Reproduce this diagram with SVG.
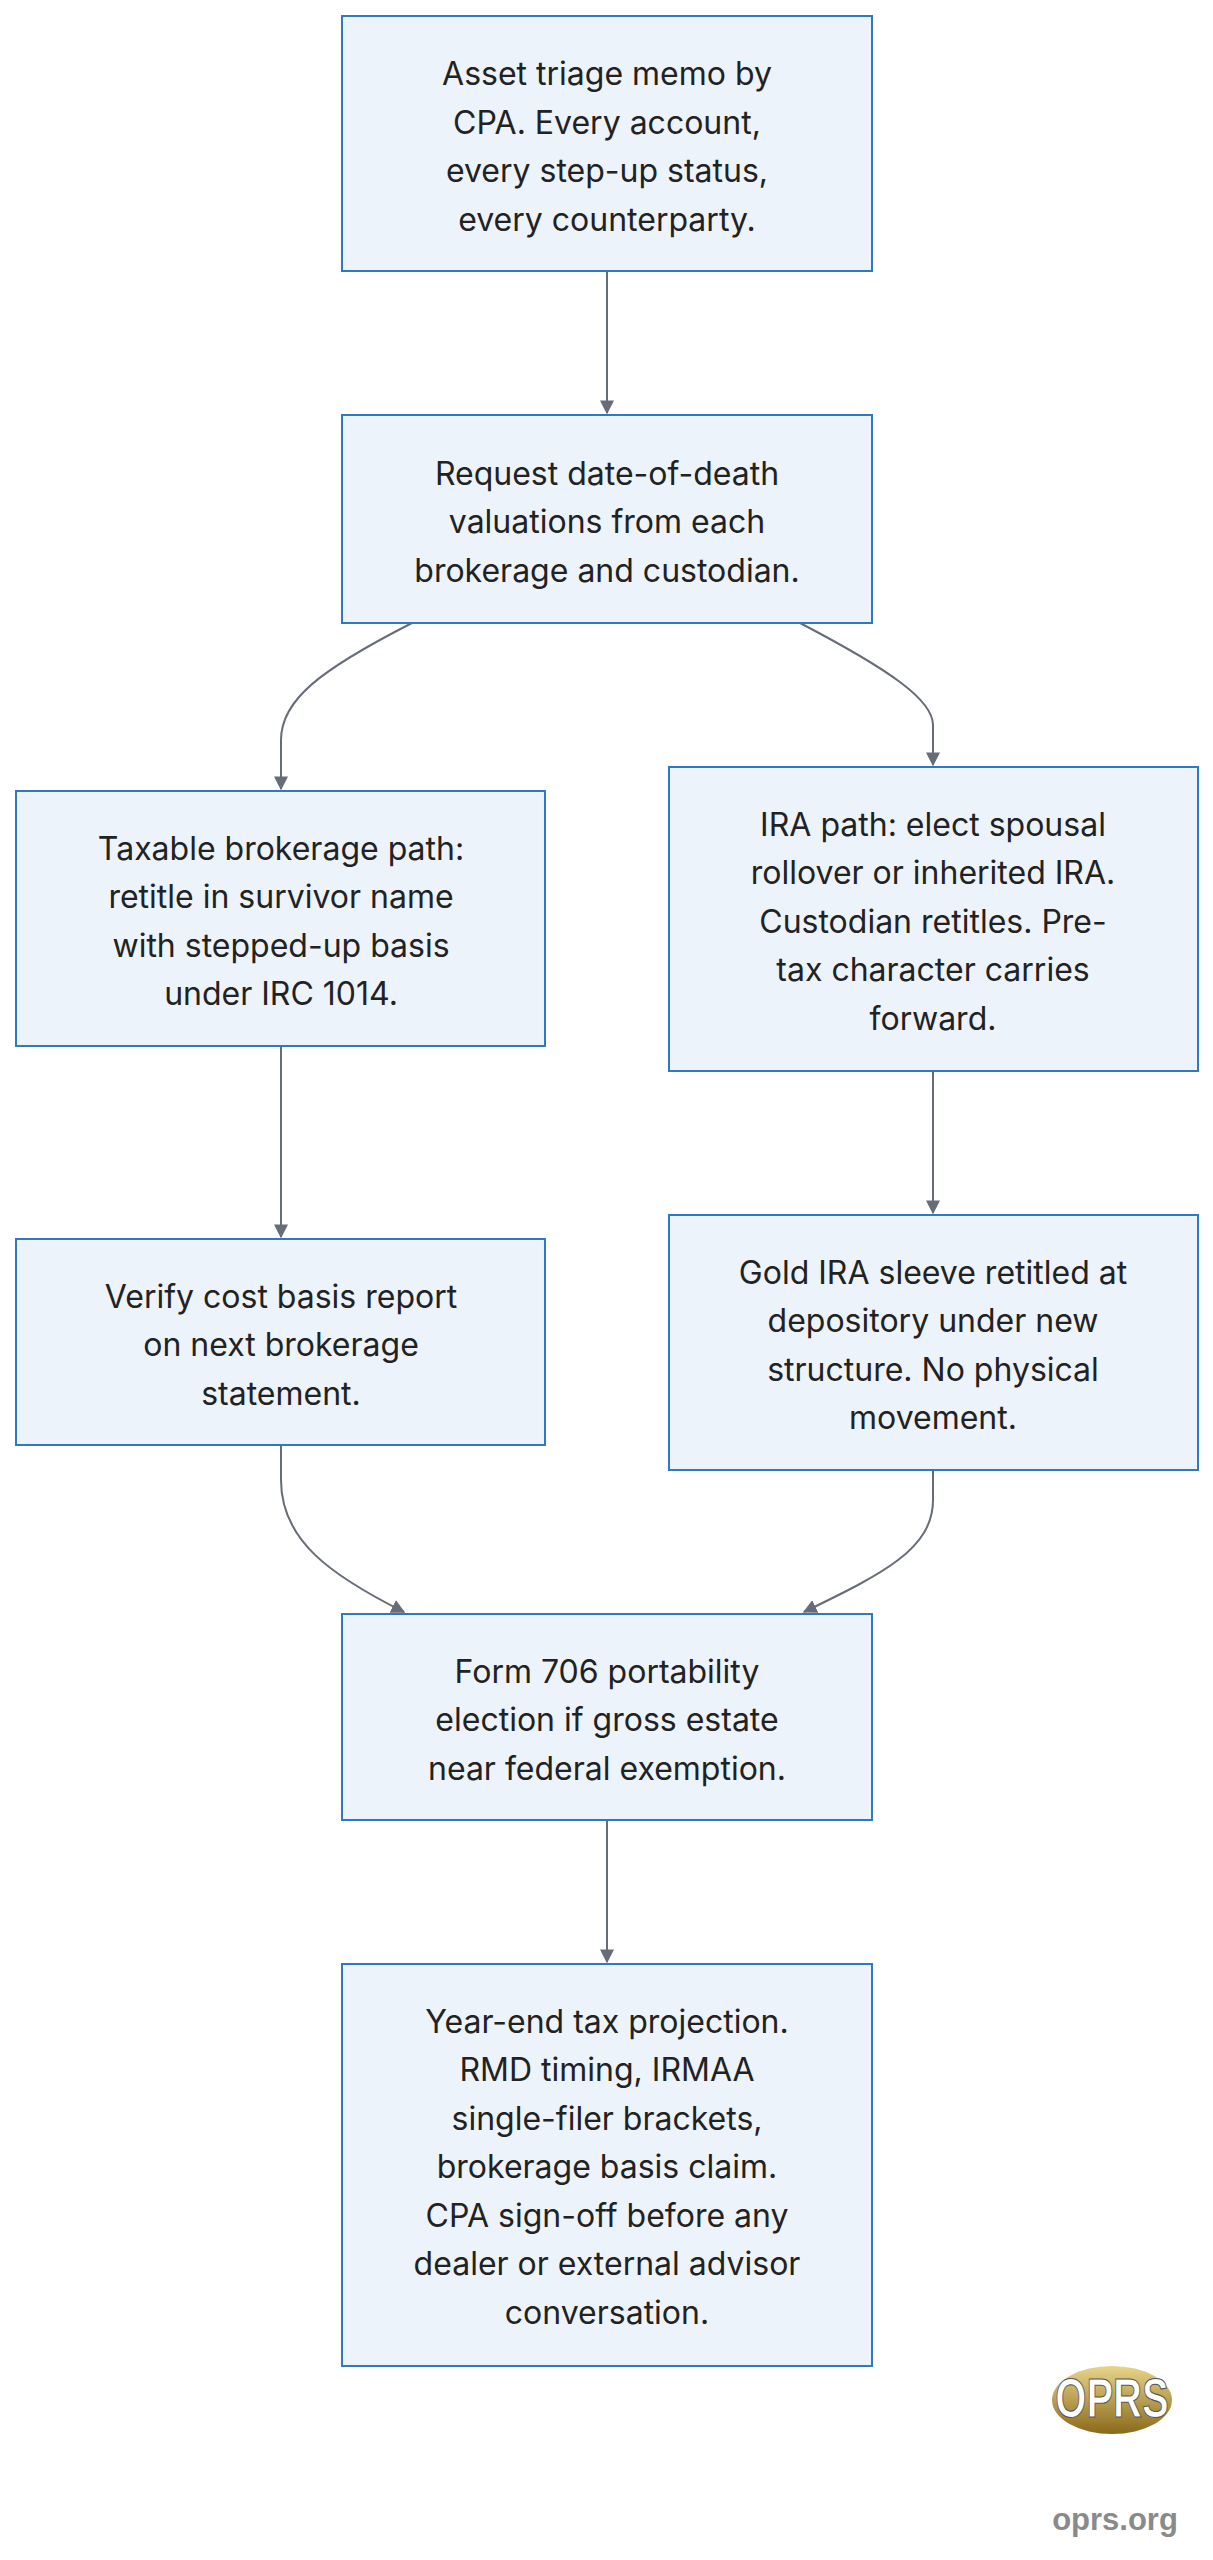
<svg xmlns="http://www.w3.org/2000/svg" width="1213" height="2560" viewBox="0 0 1213 2560">
<style>
.box{fill:#edf3fb;stroke:#2f78c4;stroke-width:2}
.t{font-family:Inter,"Noto Sans","Liberation Sans",sans-serif;font-size:32px;fill:#222;text-anchor:middle;dominant-baseline:central}
.c{fill:none;stroke:#666d78;stroke-width:2}
</style>
<defs><marker id="a" viewBox="0 0 10 10" refX="9" refY="5" markerWidth="14" markerHeight="14" markerUnits="userSpaceOnUse" orient="auto"><path d="M0,0L10,5L0,10z" fill="#666d78"/></marker>
<linearGradient id="g" x1="0" y1="0" x2="0" y2="1"><stop offset="0" stop-color="#e8d48a"/><stop offset="1" stop-color="#8a6a1a"/></linearGradient></defs>
<rect width="1213" height="2560" fill="#fff"/>
<g id="connectors">
<path class="c" d="M607,271V413" marker-end="url(#a)"/>
<path class="c" d="M412,623C320,670 281,700 281,740V789" marker-end="url(#a)"/>
<path class="c" d="M800,623C890,670 933,700 933,725V765" marker-end="url(#a)"/>
<path class="c" d="M281,1046V1237" marker-end="url(#a)"/>
<path class="c" d="M933,1071V1213" marker-end="url(#a)"/>
<path class="c" d="M281,1445V1480C281,1540 330,1575 404,1612" marker-end="url(#a)"/>
<path class="c" d="M933,1470V1500C933,1550 880,1575 804,1612" marker-end="url(#a)"/>
<path class="c" d="M607,1820V1962" marker-end="url(#a)"/>
</g>
<g id="n1"><rect class="box" x="342" y="16" width="530" height="255"/>
<text class="t" x="607"><tspan x="607" y="73">Asset triage memo by</tspan><tspan x="607" y="122">CPA. Every account,</tspan><tspan x="607" y="170">every step-up status,</tspan><tspan x="607" y="219">every counterparty.</tspan></text></g>
<g id="n2"><rect class="box" x="342" y="415" width="530" height="208"/>
<text class="t"><tspan x="607" y="473">Request date-of-death</tspan><tspan x="607" y="521">valuations from each</tspan><tspan x="607" y="570">brokerage and custodian.</tspan></text></g>
<g id="n3"><rect class="box" x="16" y="791" width="529" height="255"/>
<text class="t"><tspan x="281" y="848">Taxable brokerage path:</tspan><tspan x="281" y="896">retitle in survivor name</tspan><tspan x="281" y="945">with stepped-up basis</tspan><tspan x="281" y="993">under IRC 1014.</tspan></text></g>
<g id="n4"><rect class="box" x="669" y="767" width="529" height="304"/>
<text class="t"><tspan x="933" y="824">IRA path: elect spousal</tspan><tspan x="933" y="872">rollover or inherited IRA.</tspan><tspan x="933" y="921">Custodian retitles. Pre-</tspan><tspan x="933" y="969">tax character carries</tspan><tspan x="933" y="1018">forward.</tspan></text></g>
<g id="n5"><rect class="box" x="16" y="1239" width="529" height="206"/>
<text class="t"><tspan x="281" y="1296">Verify cost basis report</tspan><tspan x="281" y="1344">on next brokerage</tspan><tspan x="281" y="1393">statement.</tspan></text></g>
<g id="n6"><rect class="box" x="669" y="1215" width="529" height="255"/>
<text class="t"><tspan x="933" y="1272">Gold IRA sleeve retitled at</tspan><tspan x="933" y="1320">depository under new</tspan><tspan x="933" y="1369">structure. No physical</tspan><tspan x="933" y="1417">movement.</tspan></text></g>
<g id="n7"><rect class="box" x="342" y="1614" width="530" height="206"/>
<text class="t"><tspan x="607" y="1671">Form 706 portability</tspan><tspan x="607" y="1719">election if gross estate</tspan><tspan x="607" y="1768">near federal exemption.</tspan></text></g>
<g id="n8"><rect class="box" x="342" y="1964" width="530" height="402"/>
<text class="t"><tspan x="607" y="2021">Year-end tax projection.</tspan><tspan x="607" y="2069">RMD timing, IRMAA</tspan><tspan x="607" y="2118">single-filer brackets,</tspan><tspan x="607" y="2166">brokerage basis claim.</tspan><tspan x="607" y="2215">CPA sign-off before any</tspan><tspan x="607" y="2263">dealer or external advisor</tspan><tspan x="607" y="2312">conversation.</tspan></text></g>
<g id="logo">
<ellipse cx="1112" cy="2400" rx="60" ry="34" fill="url(#g)"/>
<text x="1112" y="2417" font-family="'Liberation Sans',sans-serif" font-weight="bold" font-size="50" fill="#fff" stroke="#555" stroke-width="1" text-anchor="middle" transform="translate(1112 0) scale(0.8 1.1) translate(-1112 -220)">OPRS</text>
<text x="1115" y="2530" font-family="'Liberation Sans',sans-serif" font-weight="bold" font-size="31" fill="#8a8a8a" text-anchor="middle">oprs.org</text>
</g>
</svg>
